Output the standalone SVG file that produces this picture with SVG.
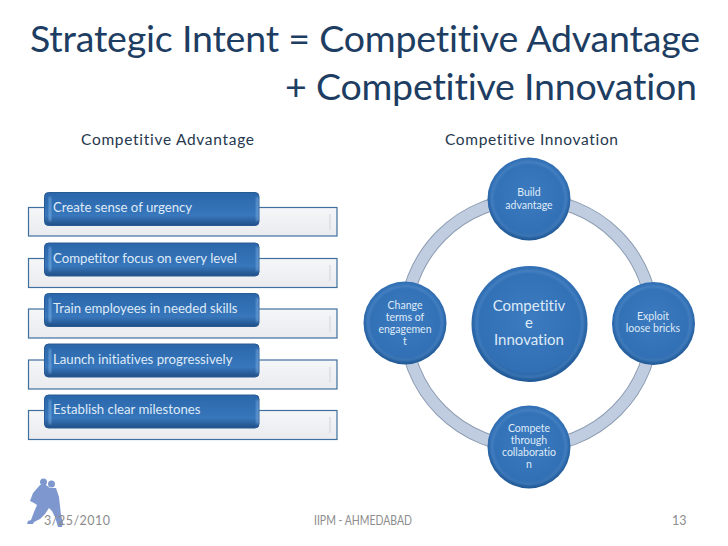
<svg xmlns="http://www.w3.org/2000/svg" width="728" height="546" viewBox="0 0 728 546">
<style>
text{font-family:"Lato","Open Sans","Liberation Sans",sans-serif;font-variant-ligatures:none}
.title{font-size:37.500px;fill:#1d3d62}
.head{font-size:15.500px;fill:#26384e}
.bar{font-size:13.200px;fill:#dfeaf7}
.foot{font-size:12.500px;fill:#8c8c8c}
.c{text-anchor:middle;fill:#dfeaf7}
.s{font-size:10.500px}
.l{font-size:15px}
.back{fill:url(#backg);stroke:#3f6f9f;stroke-width:1.2}
.front{fill:url(#barg);stroke:#2a5a92;stroke-width:1}
.edge{fill:#86b8e8;opacity:.75;filter:url(#soft)}
.shade{fill:#dfe2e7}
.disc{fill:url(#discg)}
.rim{fill:none;stroke:#6ea3da;stroke-width:1.800;opacity:.4;filter:url(#soft)}
</style>
<defs>
<filter id="soft" x="-30%" y="-30%" width="160%" height="160%"><feGaussianBlur stdDeviation=".8"/></filter>
<linearGradient id="backg" x1="0" y1="0" x2="0" y2="1"><stop offset="0" stop-color="#f5f6f8"/><stop offset="1" stop-color="#e9ebef"/></linearGradient>
<linearGradient id="barg" x1="0" y1="0" x2="0" y2="1"><stop offset="0" stop-color="#2a66aa"/><stop offset=".7" stop-color="#3877bc"/><stop offset="1" stop-color="#204f87"/></linearGradient>
<radialGradient id="discg" cx=".5" cy=".45" r=".56"><stop offset="0" stop-color="#3c7bc0"/><stop offset=".82" stop-color="#3270b5"/><stop offset="1" stop-color="#1e5590"/></radialGradient>
</defs>

<text class="title" x="30" y="52" textLength="670" lengthAdjust="spacing">Strategic Intent = Competitive Advantage</text>
<text class="title" x="285" y="100" textLength="412" lengthAdjust="spacing">+ Competitive Innovation</text>
<text class="head" x="81" y="145" textLength="173" lengthAdjust="spacing">Competitive Advantage</text>
<text class="head" x="445" y="145" textLength="173" lengthAdjust="spacing">Competitive Innovation</text>

<g id="connectors">
<circle cx="529" cy="323" r="124" fill="none" stroke="#8c9bb0" stroke-width="13"/>
<circle cx="529" cy="323" r="124" fill="none" stroke="#c0cde1" stroke-width="11"/>
</g>

<g id="item1">
<rect class="back" x="28.500" y="207.500" width="308.500" height="28.500"/>
<rect class="shade" x="329" y="214" width="2" height="16"/>
<rect class="front" x="44.500" y="192.500" width="214.500" height="33" rx="4"/>
<rect class="edge" x="49" y="197" width="2" height="24"/><rect class="edge" x="256.500" y="197" width="2" height="24"/>
<text class="bar" x="53" y="212">Create sense of urgency</text>
</g>
<g id="item2">
<rect class="back" x="28.500" y="258.500" width="308.500" height="29"/>
<rect class="shade" x="329" y="265" width="2" height="16"/>
<rect class="front" x="44.500" y="243" width="214.500" height="33" rx="4"/>
<rect class="edge" x="49" y="247" width="2" height="24"/><rect class="edge" x="256.500" y="247" width="2" height="24"/>
<text class="bar" x="53" y="263">Competitor focus on every level</text>
</g>
<g id="item3">
<rect class="back" x="28.500" y="309" width="308.500" height="29"/>
<rect class="shade" x="329" y="316" width="2" height="16"/>
<rect class="front" x="44.500" y="293.500" width="214.500" height="33" rx="4"/>
<rect class="edge" x="49" y="298" width="2" height="24"/><rect class="edge" x="256.500" y="298" width="2" height="24"/>
<text class="bar" x="53" y="313">Train employees in needed skills</text>
</g>
<g id="item4">
<rect class="back" x="28.500" y="360" width="308.500" height="29"/>
<rect class="shade" x="329" y="367" width="2" height="16"/>
<rect class="front" x="44.500" y="344" width="214.500" height="33" rx="4"/>
<rect class="edge" x="49" y="349" width="2" height="24"/><rect class="edge" x="256.500" y="349" width="2" height="24"/>
<text class="bar" x="53" y="364">Launch initiatives progressively</text>
</g>
<g id="item5">
<rect class="back" x="28.500" y="410.500" width="308.500" height="29"/>
<rect class="shade" x="329" y="417" width="2" height="16"/>
<rect class="front" x="44.500" y="395" width="214.500" height="33" rx="4"/>
<rect class="edge" x="49" y="400" width="2" height="24"/><rect class="edge" x="256.500" y="400" width="2" height="24"/>
<text class="bar" x="53" y="414">Establish clear milestones</text>
</g>

<g id="build">
<circle class="disc" cx="529" cy="199" r="41.500"/><circle class="rim" cx="529" cy="199" r="37"/>
<text class="c s" x="529" y="196">Build</text><text class="c s" x="529" y="209">advantage</text>
</g>
<g id="change">
<circle class="disc" cx="405" cy="323" r="41.500"/><circle class="rim" cx="405" cy="323" r="37"/>
<text class="c s" x="405" y="309">Change</text><text class="c s" x="405" y="321">terms of</text><text class="c s" x="405" y="333">engagemen</text><text class="c s" x="405" y="345">t</text>
</g>
<g id="exploit">
<circle class="disc" cx="653.500" cy="323.500" r="41.500"/><circle class="rim" cx="653.500" cy="323.500" r="37"/>
<text class="c s" x="653" y="320">Exploit</text><text class="c s" x="653" y="332">loose bricks</text>
</g>
<g id="compete">
<circle class="disc" cx="529" cy="447" r="41.500"/><circle class="rim" cx="529" cy="447" r="37"/>
<text class="c s" x="529" y="432">Compete</text><text class="c s" x="529" y="444">through</text><text class="c s" x="529" y="456">collaboratio</text><text class="c s" x="529" y="468">n</text>
</g>
<g id="center">
<circle class="disc" cx="529.500" cy="324" r="58"/><circle class="rim" cx="529.500" cy="324" r="53"/>
<text class="c l" x="529" y="311">Competitiv</text><text class="c l" x="529" y="328">e</text><text class="c l" x="529" y="345">Innovation</text>
</g>

<g id="figures" fill="#7e98cf">
<circle cx="43.500" cy="482" r="3.500"/>
<circle cx="51.500" cy="484" r="3.500"/>
<path d="M40 485L46 485L50 488L56 488L59 497L60 506L61 515L63 523L62 527L58 527L55 517L52 511L49 508L45 514L40 519L34 522L33 524H27L28 521L31 520L34 512L37 505L34 503L30 501L33 493Z"/>
</g>

<text class="foot" x="44" y="525" textLength="66" lengthAdjust="spacing">3/25/2010</text>
<text class="foot" x="314" y="525" textLength="98" lengthAdjust="spacingAndGlyphs">IIPM - AHMEDABAD</text>
<text class="foot" x="672" y="525">13</text>
</svg>
